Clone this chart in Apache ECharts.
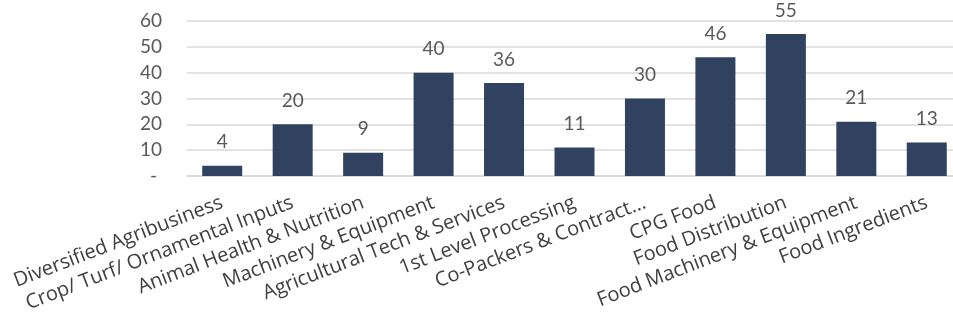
<!DOCTYPE html>
<html><head><meta charset="utf-8">
<script src="https://cdn.jsdelivr.net/npm/echarts@6/dist/echarts.min.js"></script>
<style>html,body{margin:0;padding:0;background:#fff;overflow:hidden;width:953px;height:328px}#c{width:962px;height:328px}</style>
</head><body><div id="c"></div>
<script>
const categories = ["Diversified Agribusiness","Crop/ Turf/ Ornamental Inputs","Animal Health & Nutrition","Machinery & Equipment","Agricultural Tech & Services","1st Level Processing","Co-Packers & Contract…","CPG Food","Food Distribution","Food Machinery & Equipment","Food Ingredients"];
const values = [4,20,9,40,36,11,30,46,55,21,13];
const yTicks = {min:0,max:60,interval:10};
const FONT = "Lato";
const CAT_FONT = "Open Sans";
const chart = echarts.init(document.getElementById('c'));
chart.setOption({
  animation:false,
  grid:{left:187,right:0,top:21,bottom:152,containLabel:false},
  xAxis:{type:'category',data:categories,
    axisLine:{lineStyle:{color:'#d9d9d9',width:1.5}},
    axisTick:{show:false},
    axisLabel:{rotate:21,interval:0,margin:26,color:'#404040',fontFamily:CAT_FONT,fontSize:20}},
  yAxis:{type:'value',min:yTicks.min,max:yTicks.max,interval:yTicks.interval,
    axisLine:{show:false},axisTick:{show:false},
    splitLine:{lineStyle:{color:'#d9d9d9',width:1.5}},
    axisLabel:{margin:25,color:'#595959',fontFamily:FONT,fontSize:19,
      formatter:v=>v===0?'- ':String(v)}},
  series:[{type:'bar',data:values,barWidth:40,
    itemStyle:{color:'#304260'},
    label:{show:true,position:'top',distance:14,color:'#595959',fontFamily:FONT,fontSize:19}}]
});
</script></body></html>
